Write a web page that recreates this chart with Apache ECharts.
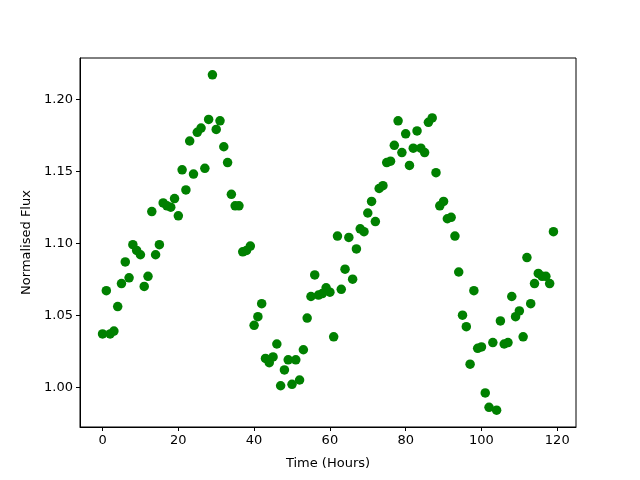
<!DOCTYPE html>
<html>
<head>
<meta charset="utf-8">
<script src="https://cdn.jsdelivr.net/npm/echarts@6/dist/echarts.min.js"></script>
<style>
  html, body { margin: 0; padding: 0; background: #fff; }
  #chart { width: 640px; height: 480px; }
</style>
</head>
<body>
<div id="chart"></div>
<script>
// time in hours (one sample per hour)
const hours = Array.from({ length: 120 }, (_, i) => i);

// normalised flux
const flux = [
  1.037, 1.067, 1.037, 1.039, 1.056, 1.072, 1.087, 1.076, 1.099, 1.095,
  1.092, 1.070, 1.077, 1.122, 1.092, 1.099, 1.128, 1.126, 1.125, 1.131,
  1.119, 1.151, 1.137, 1.171, 1.148, 1.177, 1.180, 1.152, 1.186, 1.217,
  1.179, 1.185, 1.167, 1.156, 1.134, 1.126, 1.126, 1.094, 1.095, 1.098,
  1.043, 1.049, 1.058, 1.020, 1.017, 1.021, 1.030, 1.001, 1.012, 1.019,
  1.002, 1.019, 1.005, 1.026, 1.048, 1.063, 1.078, 1.064, 1.065, 1.069,
  1.066, 1.035, 1.105, 1.068, 1.082, 1.104, 1.075, 1.096, 1.110, 1.108,
  1.121, 1.129, 1.115, 1.138, 1.140, 1.156, 1.157, 1.168, 1.185, 1.163,
  1.176, 1.154, 1.166, 1.178, 1.166, 1.163, 1.184, 1.187, 1.149, 1.126,
  1.129, 1.117, 1.118, 1.105, 1.080, 1.050, 1.042, 1.016, 1.067, 1.027,
  1.028, 0.996, 0.986, 1.031, 0.984, 1.046, 1.030, 1.031, 1.063, 1.049,
  1.053, 1.035, 1.090, 1.058, 1.072, 1.079, 1.077, 1.077, 1.072, 1.108
];

const xTicks = [0, 20, 40, 60, 80, 100, 120];
const yTicks = [1.00, 1.05, 1.10, 1.15, 1.20];

// matplotlib-like 5% margins around the data
const pad = (lo, hi) => [lo - (hi - lo) * 0.05, hi + (hi - lo) * 0.05];
const [xMin, xMax] = pad(Math.min(...hours), Math.max(...hours));
const [yMin, yMax] = pad(Math.min(...flux), Math.max(...flux));

const font = 'DejaVu Sans';
const axisCommon = {
  axisLine: { show: true, onZero: false, lineStyle: { color: '#000', width: 1 } },
  axisTick: { show: true, inside: false, length: 4, lineStyle: { color: '#000', width: 1 } },
  splitLine: { show: false },
  nameLocation: 'middle',
  nameTextStyle: { color: '#000', fontFamily: font, fontSize: 13 }
};

const chart = echarts.init(document.getElementById('chart'));
chart.setOption({
  animation: false,
  backgroundColor: '#fff',
  grid: {
    left: 80, right: 64, top: 58, bottom: 53,
    show: true, borderColor: '#000', borderWidth: 1
  },
  xAxis: {
    ...axisCommon,
    type: 'value',
    min: xMin,
    max: xMax,
    name: 'Time (Hours)',
    nameGap: 30,
    axisTick: { ...axisCommon.axisTick, customValues: xTicks },
    axisLabel: {
      customValues: xTicks,
      color: '#000', fontFamily: font, fontSize: 13, margin: 7,
      formatter: v => String(v)
    }
  },
  yAxis: {
    ...axisCommon,
    type: 'value',
    min: yMin,
    max: yMax,
    name: 'Normalised Flux',
    nameGap: 46,
    axisTick: { ...axisCommon.axisTick, customValues: yTicks },
    axisLabel: {
      customValues: yTicks,
      color: '#000', fontFamily: font, fontSize: 13, margin: 7,
      formatter: v => v.toFixed(2)
    }
  },
  series: [{
    type: 'scatter',
    data: hours.map((h, i) => [h, flux[i]]),
    symbol: 'circle',
    symbolSize: 9.5,
    itemStyle: { color: '#008000', opacity: 1 }
  }]
});
</script>
</body>
</html>
